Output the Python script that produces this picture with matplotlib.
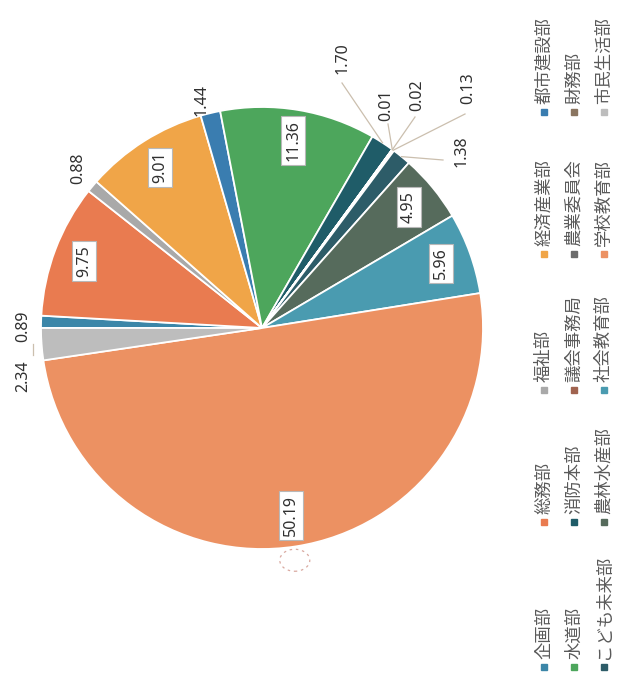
import numpy as np
import matplotlib.pyplot as plt
from matplotlib.patches import Ellipse

plt.rcParams['font.family'] = ['Noto Sans CJK JP', 'DejaVu Sans']

# data, in legend order (pie runs clockwise from the first entry)
departments = ['企画部', '総務部', '福祉部', '経済産業部', '都市建設部',
               '水道部', '消防本部', '議会事務局', '農業委員会', '財務部',
               'こども未来部', '農林水産部', '社会教育部', '学校教育部', '市民生活部']
shares = [0.89, 9.75, 0.88, 9.01, 1.44,
          11.36, 1.70, 0.01, 0.02, 0.13,
          1.38, 4.95, 5.96, 50.19, 2.34]
share_labels = ['0.89', '9.75', '0.88', '9.01', '1.44',
                '11.36', '1.70', '0.01', '0.02', '0.13',
                '1.38', '4.95', '5.96', '50.19', '2.34']
colors = ['#3b86a8', '#e97b50', '#a9a9a9', '#f0a548', '#3a7db0',
          '#4da65c', '#1f5c68', '#a0634f', '#6b6b6b', '#8a7560',
          '#2d5c68', '#566b5c', '#4a9bb0', '#ec9162', '#bdbdbd']

# page is a scan turned on its side, so everything is drawn in image pixels
W, H = 619, 675
def Y(y):
    return H - y

cx, cy, R = 262, Y(328), 221

# outside labels: text centre, optional leader start (image px)
outside = {
    '0.89': ((23, 326), None),
    '2.34': ((23, 376), (33, 355)),
    '0.88': ((78, 168), None),
    '1.44': ((202, 100), None),
    '1.70': ((343, 58), (342, 83)),
    '0.01': ((386, 105), (388, 124)),
    '0.02': ((417, 95), (415, 117)),
    '0.13': ((468, 88), (465, 114)),
    '1.38': ((462, 151), (443, 160)),
}

legend_x = [544, 574, 604]
legend_y = [667, 522, 390, 254, 112]


def main():
    fig = plt.figure(figsize=(W / 100, H / 100), dpi=100)
    ax = fig.add_axes([0, 0, 1, 1])

    wedges, _ = ax.pie(shares, colors=colors, startangle=180, counterclock=False,
                       center=(cx, cy), radius=R, frame=True,
                       wedgeprops=dict(edgecolor='white', linewidth=1.3))

    for w, lab, v in zip(wedges, share_labels, shares):
        mid = np.deg2rad((w.theta1 + w.theta2) / 2)
        if v > 4:
            r = 0.86 * R
            ax.text(cx + r * np.cos(mid), cy + r * np.sin(mid), lab,
                    rotation=90, ha='center', va='center', fontsize=11.5,
                    family=['Noto Sans', 'DejaVu Sans'], color='#303030',
                    bbox=dict(boxstyle='square,pad=0.25', fc='white',
                              ec='#b8b8b8', lw=0.8))
        else:
            (tx, ty), lead = outside[lab]
            ax.text(tx, Y(ty), lab, rotation=90, ha='center', va='center',
                    fontsize=11.5, family=['Noto Sans', 'DejaVu Sans'],
                    color='#303030')
            if lead is not None:
                ex, ey = cx + R * np.cos(mid), cy + R * np.sin(mid)
                if lab == '2.34':
                    ex, ey = lead[0], Y(lead[1] - 11)
                ax.plot([lead[0], ex], [Y(lead[1]), ey], color='#cbbfae', lw=0.9)

    # the dashed mark under the 50.19 slice
    big = wedges[share_labels.index('50.19')]
    mid = np.deg2rad((big.theta1 + big.theta2) / 2)
    ax.add_patch(Ellipse((cx + (R + 14) * np.cos(mid) - 3, cy + (R + 14) * np.sin(mid)),
                         30, 22, fill=False, ls=(0, (2, 3)), ec='#d9a9a0', lw=0.9))

    # legend, three columns of five, text reading upwards
    for i, (name, col) in enumerate(zip(departments, colors)):
        x = legend_x[i // 5]
        y = Y(legend_y[i % 5])
        ax.plot(x, y, marker='s', ms=5, color=col, mec=col)
        ax.text(x, y + 8, name, rotation=90, rotation_mode='anchor',
                ha='left', va='center', fontsize=12.5, color='#5a5a5a')

    ax.set_xlim(0, W)
    ax.set_ylim(0, H)
    ax.set_aspect('auto')
    ax.set_axis_off()
    fig.savefig('out.png', dpi=100, facecolor='white')


if __name__ == "__main__":
    main()
